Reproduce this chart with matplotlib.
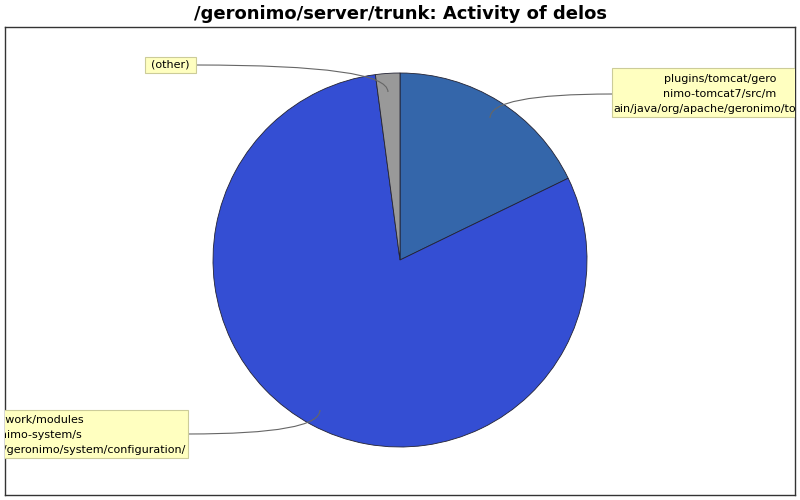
import matplotlib
matplotlib.use("Agg")
import matplotlib.pyplot as plt
from matplotlib.patches import Rectangle, PathPatch
from matplotlib.path import Path

# Data
slice_names = ["plugins/tomcat/geronimo-tomcat7/src/main/java/org/apache/geronimo/tomcat/",
               "framework/modules/geronimo-system/src/main/java/org/apache/geronimo/system/configuration/",
               "(other)"]
slice_values = [17.8, 80.1, 2.1]
slice_colors = ["#3466AA", "#344ED3", "#999999"]
title = "/geronimo/server/trunk: Activity of delos"

W, H = 800, 500
fig = plt.figure(figsize=(8, 5), dpi=100)
fig.patch.set_facecolor("white")
L, T, R, B = 5, 27, 795, 495
ax = fig.add_axes([L / W, (H - B) / H, (R - L) / W, (B - T) / H])

def px(X, Y):
    return X - L, B - Y

cx, cy = px(400, 260)
wedges, _ = ax.pie(slice_values, colors=slice_colors, startangle=90, counterclock=False,
                   center=(cx, cy), radius=187, frame=True,
                   wedgeprops=dict(edgecolor="#222233", linewidth=0.6))
ax.set_xlim(0, R - L)
ax.set_ylim(0, B - T)
ax.set_aspect("auto")
ax.set_xticks([])
ax.set_yticks([])
for s in ax.spines.values():
    s.set_color("#333333")
    s.set_linewidth(1.0)

font = "DejaVu Sans"
fs = 8

def box(x0, y0, x1, y1):
    a, b = px(x0, y1)
    w, h = x1 - x0, y1 - y0
    r = Rectangle((a, b), w, h, facecolor="#FFFFC0", edgecolor="#CCCC99", linewidth=0.8,
                  clip_on=True, zorder=5)
    ax.add_patch(r)
    r.set_clip_path(ax.patch)

def text(X, Y, s, ha):
    x, y = px(X, Y)
    t = ax.text(x, y, s, ha=ha, va="center", fontsize=fs, family=font, color="black",
                zorder=6, clip_on=True)

def curve(p0, p1):
    a = px(*p0); c = px(p1[0], p0[1]); b = px(*p1)
    path = Path([a, c, b], [Path.MOVETO, Path.CURVE3, Path.CURVE3])
    ax.add_patch(PathPatch(path, facecolor="none", edgecolor="#666666", linewidth=0.8, zorder=4))

# Label 1 (plugins)
curve((612, 94), (490, 118))
box(612, 68, 830, 117)
text(720, 79, "plugins/tomcat/gero", "center")
text(720, 94, "nimo-tomcat7/src/m", "center")
text(613, 109, "ain/java/org/apache/geronimo/tomcat/", "left")

# Label 2 (framework)
curve((188, 434), (320, 410))
box(-40, 410, 188, 458)
text(84, 420, "framework/modules", "right")
text(82, 435, "/geronimo-system/s", "right")
text(186, 450, "apache/geronimo/system/configuration/", "right")

# Label 3 (other)
curve((196, 65), (388, 92))
box(145, 57, 196, 73)
text(170.5, 65, "(other)", "center")

fig.text(0.5, 1 - 14 / H, title, ha="center", va="center", fontsize=13, fontweight="bold",
         family=font)

fig.savefig("out.png", dpi=100)
